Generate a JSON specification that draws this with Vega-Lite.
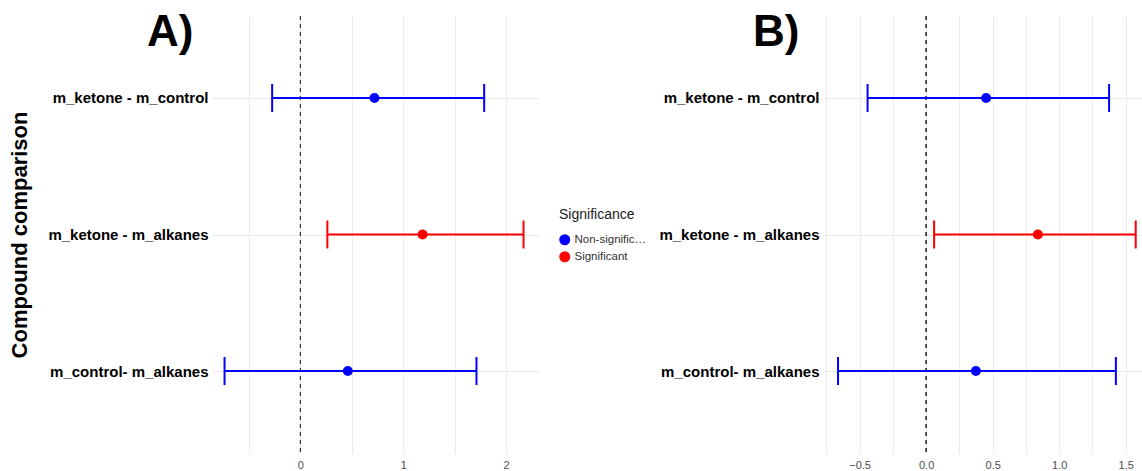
{
  "$schema": "https://vega.github.io/schema/vega-lite/v6.json",
  "background": "white",
  "padding": {"left": 8, "top": 10, "right": 0, "bottom": 0},
  "datasets": {
    "a": [
      {"comparison": "m_ketone - m_control", "est": 0.72, "low": -0.275, "high": 1.787, "sig": "Non-significant"},
      {"comparison": "m_ketone - m_alkanes", "est": 1.188, "low": 0.262, "high": 2.17, "sig": "Significant"},
      {"comparison": "m_control- m_alkanes", "est": 0.461, "low": -0.738, "high": 1.712, "sig": "Non-significant"}
    ],
    "b": [
      {"comparison": "m_ketone - m_control", "est": 0.451, "low": -0.44, "high": 1.375, "sig": "Non-significant"},
      {"comparison": "m_ketone - m_alkanes", "est": 0.84, "low": 0.06, "high": 1.575, "sig": "Significant"},
      {"comparison": "m_control- m_alkanes", "est": 0.374, "low": -0.662, "high": 1.426, "sig": "Non-significant"}
    ]
  },
  "spacing": 118,
  "resolve": {"scale": {"color": "shared"}},
  "hconcat": [
    {
      "width": 328,
      "height": 437,
      "title": {"text": "A)", "fontSize": 44, "fontWeight": "bold", "font": "Liberation Sans", "color": "black", "anchor": "start", "frame": "group", "dx": -65, "offset": -39},
      "data": {"name": "a"},
      "encoding": {
        "y": {
          "field": "comparison", "type": "nominal",
          "sort": ["m_ketone - m_control", "m_ketone - m_alkanes", "m_control- m_alkanes"],
          "scale": {"type": "point", "padding": 0.6},
          "axis": {"title": "Compound comparison", "titleFont": "Liberation Sans", "titleFontSize": 22, "titleFontWeight": "bold", "titleColor": "black", "titlePadding": 16,
                   "labelFont": "Liberation Sans", "labelFontSize": 15, "labelFontWeight": "bold", "labelColor": "black", "labelPadding": 4,
                   "ticks": false, "domain": false, "grid": true, "gridColor": "#ebebeb", "gridWidth": 1}
        }
      },
      "layer": [
        {"mark": {"type": "rule", "strokeDash": [4, 4], "color": "#333333", "strokeWidth": 1}, "encoding": {"x": {"datum": 0, "type": "quantitative"}, "y": null}},
        {
          "mark": {"type": "rule", "strokeWidth": 2},
          "encoding": {
            "x": {"field": "low", "type": "quantitative", "scale": {"domain": [-0.86, 2.33], "nice": false, "zero": false},
                  "axis": {"title": null, "values": [-0.5, 0, 0.5, 1, 1.5, 2], "labelExpr": "datum.value % 1 === 0 ? format(datum.value, 'd') : ''",
                           "labelFont": "Liberation Sans", "labelFontSize": 11, "labelColor": "#4d4d4d", "labelPadding": 6,
                           "ticks": false, "domain": false, "grid": true, "gridColor": "#ebebeb", "gridWidth": 1}},
            "x2": {"field": "high"},
            "color": {"field": "sig", "type": "nominal", "scale": {"domain": ["Non-significant", "Significant"], "range": ["blue", "red"]},
                      "legend": {"title": "Significance", "orient": "none", "legendX": 347, "legendY": 192, "titleFont": "Liberation Sans", "titleFontSize": 14, "titleFontWeight": "normal", "titleColor": "#1a1a1a",
                                 "labelFont": "Liberation Sans", "labelFontSize": 11.5, "labelColor": "#333333", "labelLimit": 72, "symbolType": "circle", "symbolSize": 90, "rowPadding": 1, "titlePadding": 12}}
          }
        },
        {"mark": {"type": "tick", "orient": "vertical", "size": 28, "thickness": 2, "opacity": 1}, "encoding": {"x": {"field": "low", "type": "quantitative"}, "color": {"field": "sig", "type": "nominal"}}},
        {"mark": {"type": "tick", "orient": "vertical", "size": 28, "thickness": 2, "opacity": 1}, "encoding": {"x": {"field": "high", "type": "quantitative"}, "color": {"field": "sig", "type": "nominal"}}},
        {"mark": {"type": "circle", "size": 100, "opacity": 1}, "encoding": {"x": {"field": "est", "type": "quantitative"}, "color": {"field": "sig", "type": "nominal"}}}
      ]
    },
    {
      "width": 332,
      "height": 437,
      "title": {"text": "B)", "fontSize": 44, "fontWeight": "bold", "font": "Liberation Sans", "color": "black", "anchor": "start", "frame": "group", "dx": -70, "offset": -39},
      "data": {"name": "b"},
      "resolve": {"axis": {"x": "independent"}},
      "encoding": {
        "y": {
          "field": "comparison", "type": "nominal",
          "sort": ["m_ketone - m_control", "m_ketone - m_alkanes", "m_control- m_alkanes"],
          "scale": {"type": "point", "padding": 0.6},
          "axis": {"title": null,
                   "labelFont": "Liberation Sans", "labelFontSize": 15, "labelFontWeight": "bold", "labelColor": "black", "labelPadding": 4,
                   "ticks": false, "domain": false, "grid": true, "gridColor": "#ebebeb", "gridWidth": 1}
        }
      },
      "layer": [
        {"mark": {"type": "rule", "strokeDash": [4, 4], "color": "#333333", "strokeWidth": 1}, "encoding": {"x": {"datum": 0, "type": "quantitative", "axis": null}, "y": null}},
        {
          "mark": {"type": "rule", "strokeWidth": 2},
          "encoding": {
            "x": {"field": "low", "type": "quantitative", "scale": {"domain": [-0.775, 1.72], "nice": false, "zero": false},
                  "axis": {"title": null, "orient": "bottom", "values": [-0.5, 0, 0.5, 1, 1.5], "format": ".1f",
                           "labelFont": "Liberation Sans", "labelFontSize": 11, "labelColor": "#4d4d4d", "labelPadding": 6,
                           "ticks": false, "domain": false, "grid": true, "gridColor": "#ebebeb", "gridWidth": 1}},
            "x2": {"field": "high"},
            "color": {"field": "sig", "type": "nominal"}
          }
        },
        {"mark": {"type": "tick", "orient": "vertical", "size": 28, "thickness": 2, "opacity": 1}, "encoding": {"x": {"field": "low", "type": "quantitative",
            "axis": {"title": null, "orient": "bottom", "values": [-0.75, -0.25, 0.25, 0.75, 1.25], "labels": false, "ticks": false, "domain": false, "grid": true, "gridColor": "#ebebeb", "gridWidth": 1}}, "color": {"field": "sig", "type": "nominal"}}},
        {"mark": {"type": "tick", "orient": "vertical", "size": 28, "thickness": 2, "opacity": 1}, "encoding": {"x": {"field": "high", "type": "quantitative", "axis": null}, "color": {"field": "sig", "type": "nominal"}}},
        {"mark": {"type": "circle", "size": 100, "opacity": 1}, "encoding": {"x": {"field": "est", "type": "quantitative", "axis": null}, "color": {"field": "sig", "type": "nominal"}}}
      ]
    }
  ],
  "config": {"view": {"stroke": null}}
}
